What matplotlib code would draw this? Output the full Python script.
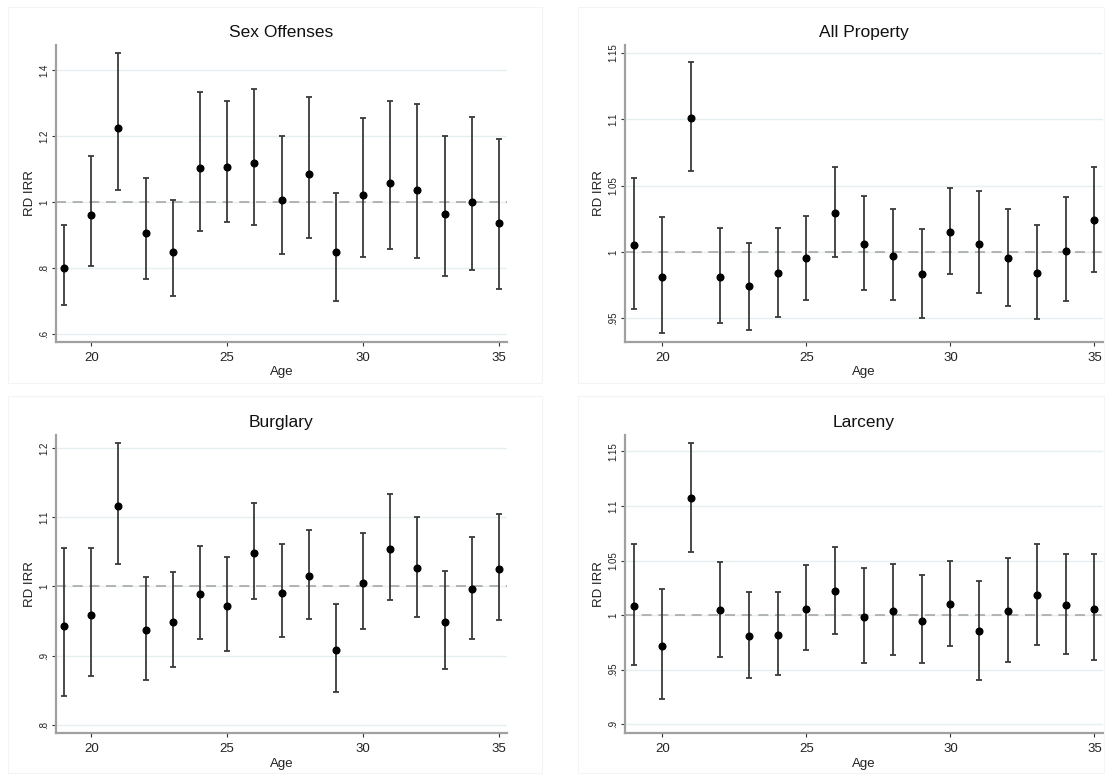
import matplotlib
matplotlib.use("Agg")
import matplotlib.pyplot as plt
from matplotlib.patches import Rectangle

plt.rcParams['font.family'] = ['Liberation Sans', 'DejaVu Sans']

ages = list(range(19, 36))

titles = ["Sex Offenses", "All Property", "Burglary", "Larceny"]

sex_est = [0.799, 0.959, 1.225, 0.906, 0.848, 1.102, 1.107, 1.117, 1.005, 1.084, 0.847, 1.021, 1.056, 1.036, 0.964, 0.999, 0.936]
sex_hi = [0.930, 1.139, 1.453, 1.074, 1.007, 1.333, 1.307, 1.342, 1.199, 1.319, 1.028, 1.255, 1.307, 1.296, 1.199, 1.258, 1.192]
sex_lo = [0.687, 0.807, 1.035, 0.766, 0.715, 0.912, 0.938, 0.929, 0.842, 0.892, 0.699, 0.832, 0.857, 0.829, 0.775, 0.794, 0.736]

prop_est = [1.005, 0.981, 1.101, 0.981, 0.974, 0.984, 0.995, 1.029, 1.006, 0.997, 0.983, 1.015, 1.006, 0.995, 0.984, 1.001, 1.024]
prop_hi = [1.056, 1.026, 1.143, 1.018, 1.007, 1.018, 1.027, 1.064, 1.042, 1.032, 1.017, 1.048, 1.046, 1.032, 1.020, 1.041, 1.064]
prop_lo = [0.957, 0.939, 1.061, 0.946, 0.941, 0.951, 0.964, 0.996, 0.971, 0.964, 0.950, 0.983, 0.969, 0.959, 0.949, 0.963, 0.985]

burg_est = [0.943, 0.958, 1.117, 0.937, 0.949, 0.989, 0.972, 1.049, 0.991, 1.015, 0.908, 1.005, 1.054, 1.026, 0.948, 0.996, 1.025]
burg_hi = [1.056, 1.055, 1.208, 1.014, 1.021, 1.059, 1.043, 1.121, 1.061, 1.082, 0.974, 1.077, 1.134, 1.100, 1.023, 1.072, 1.105]
burg_lo = [0.841, 0.871, 1.033, 0.865, 0.883, 0.924, 0.907, 0.982, 0.927, 0.953, 0.848, 0.938, 0.980, 0.956, 0.880, 0.924, 0.951]

larc_est = [1.008, 0.972, 1.107, 1.005, 0.981, 0.982, 1.006, 1.022, 0.998, 1.004, 0.995, 1.010, 0.985, 1.004, 1.018, 1.009, 1.006]
larc_hi = [1.065, 1.024, 1.158, 1.049, 1.021, 1.021, 1.046, 1.062, 1.043, 1.047, 1.037, 1.050, 1.031, 1.052, 1.065, 1.056, 1.056]
larc_lo = [0.954, 0.923, 1.058, 0.962, 0.942, 0.945, 0.968, 0.983, 0.956, 0.963, 0.956, 0.972, 0.941, 0.957, 0.973, 0.964, 0.959]

yticks_sex = [0.6, 0.8, 1.0, 1.2, 1.4]
ylabels_sex = [".6", ".8", "1", "1.2", "1.4"]
yticks_prop = [0.95, 1.0, 1.05, 1.1, 1.15]
ylabels_prop = [".95", "1", "1.05", "1.1", "1.15"]
yticks_burg = [0.8, 0.9, 1.0, 1.1, 1.2]
ylabels_burg = [".8", ".9", "1", "1.1", "1.2"]
yticks_larc = [0.9, 0.95, 1.0, 1.05, 1.1, 1.15]
ylabels_larc = [".9", ".95", "1", "1.05", "1.1", "1.15"]
xticks = [20, 25, 30, 35]

panels = [
    (sex_est, sex_lo, sex_hi, yticks_sex, ylabels_sex, (0.575, 1.476)),
    (prop_est, prop_lo, prop_hi, yticks_prop, ylabels_prop, (0.932, 1.156)),
    (burg_est, burg_lo, burg_hi, yticks_burg, ylabels_burg, (0.788, 1.219)),
    (larc_est, larc_lo, larc_hi, yticks_larc, ylabels_larc, (0.892, 1.165)),
]

W, H = 1105, 774
fig = plt.figure(figsize=(W / 100, H / 100), dpi=100)
fig.patch.set_facecolor("white")

# faint panel frames (pixel coords)
frames = [(8, 7, 542, 383), (578, 7, 1104, 383), (8, 396, 542, 773), (578, 396, 1104, 773)]
for (x0, y0, x1, y1) in frames:
    fig.patches.append(Rectangle((x0 / W, 1 - y1 / H), (x1 - x0) / W, (y1 - y0) / H,
                                 transform=fig.transFigure, fill=False,
                                 edgecolor="#f3f5f5", linewidth=0.8))

# axes boxes in pixels: left, top, right, bottom
boxes = [(56, 45, 507, 342), (625, 45, 1103, 342), (56, 435, 507, 733), (625, 435, 1103, 733)]

for (est, lo, hi, yt, yl, ylim), title, (l, t, r, b) in zip(panels, titles, boxes):
    ax = fig.add_axes([l / W, 1 - b / H, (r - l) / W, (b - t) / H])
    for y in yt:
        ax.axhline(y, color="#e6eff0", lw=1.0, zorder=0)
    ax.axhline(1.0, color="#a8a8a8", lw=1.2, ls=(0, (6, 4)), zorder=1)
    yerr = [[e - lo_ for e, lo_ in zip(est, lo)], [hi_ - e for e, hi_ in zip(est, hi)]]
    ax.errorbar(ages, est, yerr=yerr, fmt="o", color="black", ms=4.8,
                ecolor="#3a3a3a", elinewidth=1.3, capsize=2.4, capthick=1.3, zorder=3)
    ax.set_xlim(18.7, 35.3)
    ax.set_ylim(*ylim)
    ax.set_xticks(xticks)
    ax.set_xticklabels([str(x) for x in xticks], fontsize=9.5, color="#222222")
    ax.set_yticks(yt)
    ax.set_yticklabels(yl, fontsize=7, rotation=90, va="center", color="#222222")
    ax.tick_params(axis="both", length=3, width=0.8, color="#333333", pad=2)
    ax.tick_params(axis="x", pad=4)
    ax.set_xlabel("Age", fontsize=9.5, labelpad=2, color="#222222")
    ax.set_ylabel("RD IRR", fontsize=9.5, labelpad=2, color="#222222")
    ax.set_title(title, fontsize=12.5, pad=6, color="#111111")
    for s in ["top", "right"]:
        ax.spines[s].set_visible(False)
    for s in ["left", "bottom"]:
        ax.spines[s].set_color("#a0a0a0")
        ax.spines[s].set_linewidth(1.6)
    ax.set_facecolor("none")

fig.savefig("out.png", dpi=100, facecolor="white")
